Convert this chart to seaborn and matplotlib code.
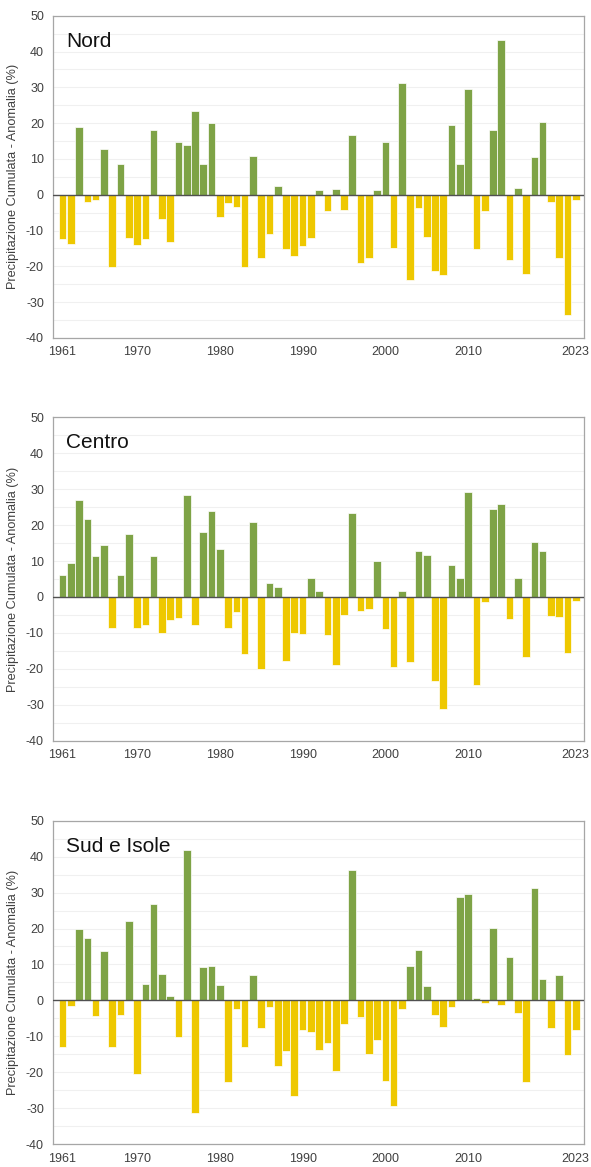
import numpy as np
import pandas as pd
import matplotlib
matplotlib.use("Agg")
import matplotlib.pyplot as plt
from matplotlib.ticker import MultipleLocator
import seaborn as sns

# Annual cumulative precipitation anomaly (%) by macro-area, 1961-2023
years = list(range(1961, 2024))

nord = [
    -12.4, -13.8, 19.0, -2.0, -1.6, 12.8, -20.3, 8.7, -12.0, -13.9,
    -12.3, 18.2, -6.7, -13.3, 14.7, 13.8, 23.4, 8.7, 20.1, -6.2,
    -2.3, -3.3, -20.3, 10.8, -17.7, -11.1, 2.5, -15.1, -17.2, -14.4,
    -12.2, 1.3, -4.6, 1.6, -4.2, 16.7, -19.2, -17.8, 1.3, 14.8,
    -14.9, 31.3, -23.9, -3.7, -11.8, -21.4, -22.4, 19.4, 8.6, 29.6,
    -15.1, -4.6, 18.2, 43.1, -18.2, 1.8, -22.2, 10.5, 20.4, -1.9,
    -17.6, -33.6, -1.4,
]

centro = [
    6.2, 9.4, 26.9, 21.7, 11.3, 14.6, -8.6, 6.2, 17.6, -8.6,
    -7.8, 11.3, -10.1, -6.5, -5.9, 28.4, -7.8, 18.0, 23.9, 13.4,
    -8.6, -4.3, -15.8, 20.8, -20.1, 3.9, 2.7, -17.8, -10.0, -10.2,
    5.3, 1.6, -10.6, -18.9, -5.0, 23.3, -4.0, -3.4, 10.1, -8.9,
    -19.6, 1.6, -18.2, 12.7, 11.8, -23.3, -31.2, 9.0, 5.4, 29.2,
    -24.5, -1.3, 24.4, 26.0, -6.1, 5.4, -16.7, 15.4, 12.7, -5.2,
    -5.5, -15.7, -1.0,
]

sud_isole = [
    -13.0, -1.5, 19.9, 17.4, -4.3, 13.7, -13.0, -4.1, 22.0, -20.6,
    4.6, 26.8, 7.4, 1.3, -10.1, 41.7, -31.4, 9.2, 9.6, 4.4,
    -22.8, -2.3, -13.0, 7.0, -7.8, -1.9, -18.2, -14.2, -26.6, -8.1,
    -8.8, -13.8, -11.9, -19.7, -6.6, 36.4, -4.6, -15.0, -11.0, -22.3,
    -29.3, -2.4, 9.5, 13.9, 4.0, -4.0, -7.3, -1.8, 28.8, 29.6,
    0.6, -0.7, 20.1, -1.2, 12.2, -3.5, -22.6, 31.4, 5.9, -7.8,
    7.0, -15.1, -8.3,
]

regions = ["Nord", "Centro", "Sud e Isole"]
series = [nord, centro, sud_isole]
xtick_years = [1961, 1970, 1980, 1990, 2000, 2010, 2023]

GREEN = "#7EA346"
YELLOW = "#EEC800"
TEXT = "#404040"
SPINE = "#A6A6A6"

sns.set_style("white")
plt.rcParams["font.family"] = ["Liberation Sans", "DejaVu Sans"]
plt.rcParams["axes.unicode_minus"] = False

fig = plt.figure(figsize=(5.91, 11.67), dpi=100)

# axes boxes in figure fractions: [left, bottom, width, height]
boxes = [
    [0.0897, 0.7104, 0.8985, 0.2761],
    [0.0897, 0.3653, 0.8985, 0.2771],
    [0.0897, 0.0195, 0.8985, 0.2773],
]

for name, vals, box in zip(regions, series, boxes):
    ax = fig.add_axes(box)
    df = pd.DataFrame({"anno": years, "anomalia": vals})
    df["segno"] = np.where(df["anomalia"] >= 0, "pos", "neg")

    sns.barplot(
        data=df, x="anno", y="anomalia", hue="segno",
        palette={"pos": GREEN, "neg": YELLOW}, saturation=1,
        native_scale=True, dodge=False, width=0.92,
        edgecolor="white", linewidth=0.5, legend=False, ax=ax,
        zorder=2,
    )

    ax.set_xlim(1959.85, 2024.0)
    ax.set_ylim(-40, 50)
    ax.yaxis.set_major_locator(MultipleLocator(10))
    ax.yaxis.set_minor_locator(MultipleLocator(5))
    ax.grid(True, axis="y", which="both", color="#F0F0F0", linewidth=0.8, zorder=0)
    ax.set_axisbelow(True)
    ax.axhline(0, color="#505050", linewidth=1.0, zorder=3)

    ax.set_xticks(xtick_years)
    ax.set_xticklabels([str(y) for y in xtick_years])
    ax.tick_params(axis="both", which="major", labelsize=9,
                   length=3, width=0.8, direction="out",
                   colors=SPINE, labelcolor=TEXT)
    ax.tick_params(axis="y", which="minor", length=0)
    ax.tick_params(axis="x", pad=3)

    for side in ["left", "right", "top", "bottom"]:
        ax.spines[side].set_visible(True)
        ax.spines[side].set_color(SPINE)
        ax.spines[side].set_linewidth(0.9)

    ax.set_xlabel("")
    ax.set_ylabel("Precipitazione Cumulata - Anomalia (%)", fontsize=9.2,
                  color=TEXT, labelpad=5)
    ax.text(0.025, 0.921, name, transform=ax.transAxes, fontsize=15,
            color="#111111", ha="left", va="center")

fig.savefig("out.png", dpi=100)
